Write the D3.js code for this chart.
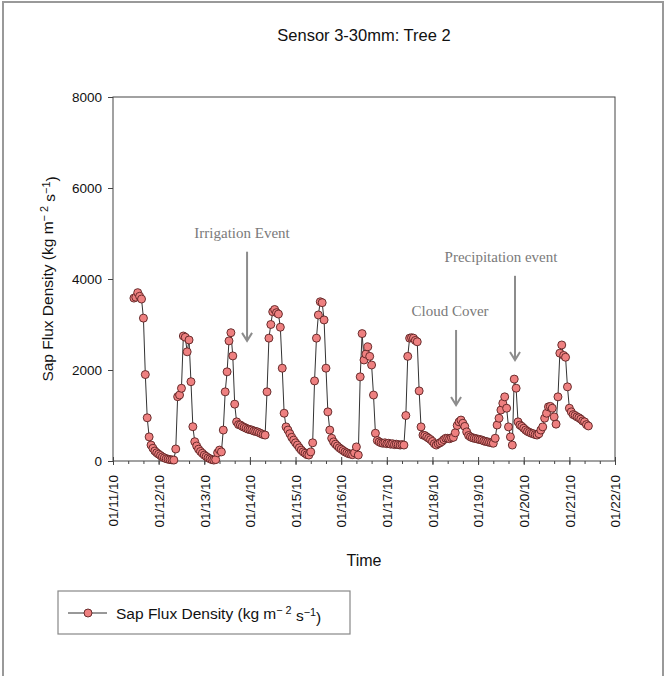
<!DOCTYPE html>
<html>
<head>
<meta charset="utf-8">
<script src="https://cdn.jsdelivr.net/npm/d3@7/dist/d3.min.js"></script>
<style>
  body { margin: 0; background: #fff; }
  svg text { font-family: "Liberation Sans", Arial, sans-serif; fill: #111; }
</style>
</head>
<body>
<svg id="chart" width="667" height="676"></svg>
<script>
// plot box
var margin = {top: 97, right: 52, bottom: 215, left: 113},
    W = 667, H = 676,
    width = W - margin.left - margin.right,
    height = H - margin.top - margin.bottom;

// hourly sap flux readings, first one at 01/11/10 11:00
var firstReading = new Date(2010, 0, 11, 11);
var sapFlux = [
  3580, 3600, 3700, 3620, 3560, 3140, 1900, 950, 530, 350, 280, 220, 180,
  150, 120, 90, 70, 50, 40, 30, 25, 20, 264, 1413, 1450, 1598, 2747, 2720, 2400, 2660, 1743, 754, 424, 330, 260, 210, 170,
  130, 100, 70, 50, 30, 20, 30, 180, 240, 200, 680, 1520, 1960, 2640, 2820, 2310, 1250, 860, 800, 790, 760, 740, 720, 700,
  690, 680, 660, 650, 640, 620, 600, 580, 570, 1520, 2700, 3000, 3280, 3330, 3260, 3230, 2940, 2040, 1050, 750, 680, 600, 520, 460,
  400, 350, 290, 240, 200, 170, 140, 130, 200, 400, 1760, 2700, 3210, 3500, 3480, 3100, 2040, 1080, 680, 500, 420, 370, 330, 290,
  260, 230, 200, 180, 160, 150, 140, 180, 310, 130, 1850, 2800, 2220, 2350, 2510, 2300, 2110, 1450, 610, 450, 420, 400, 390, 400,
  380, 390, 370, 380, 360, 370, 360, 350, 360, 350, 1000, 2300, 2700, 2710, 2700, 2650, 2620, 1540, 750, 570, 560, 530, 500, 470,
  430, 380, 350, 380, 400, 430, 470, 500, 500, 490, 510, 520, 620, 780, 860, 900, 830, 760, 640, 560, 530, 510, 500, 490,
  480, 470, 460, 440, 430, 420, 410, 400, 390, 500, 790, 940, 1120, 1270, 1410, 1160, 750, 530, 350, 1800, 1600, 860, 790, 760,
  720, 680, 650, 630, 610, 600, 580, 570, 600, 680, 750, 940, 1050, 1190, 1200, 1160, 970, 810, 1410, 2370, 2550, 2320, 2280, 1630,
  1160, 1080, 1020, 1000, 970, 950, 920, 880, 860, 800, 770
];

var dayLabels = ["01/11/10", "01/12/10", "01/13/10", "01/14/10", "01/15/10", "01/16/10",
                 "01/17/10", "01/18/10", "01/19/10", "01/20/10", "01/21/10", "01/22/10"];
var yTicks = [0, 2000, 4000, 6000, 8000];

var data = sapFlux.map(function(v, i) {
  return {t: d3.timeHour.offset(firstReading, i), v: v};
});

var svg = d3.select("#chart");

// grey frame round the whole figure
svg.append("rect")
  .attr("x", 3).attr("y", 2).attr("width", 660).attr("height", 690)
  .attr("fill", "none").attr("stroke", "#999").attr("stroke-width", 2);

var g = svg.append("g").attr("transform", "translate(" + margin.left + "," + margin.top + ")");

var x = d3.scaleTime()
  .domain([new Date(2010, 0, 11), new Date(2010, 0, 22)])
  .range([0, width]);
var y = d3.scaleLinear().domain([0, 8000]).range([height, 0]);

var days = d3.timeDay.range(new Date(2010, 0, 11), new Date(2010, 0, 23));

// minor ticks every 8 hours
g.append("g")
  .attr("transform", "translate(0," + height + ")")
  .call(d3.axisBottom(x).ticks(d3.timeHour.every(8)).tickSize(3).tickFormat(""))
  .call(function(a) { a.select(".domain").remove(); a.selectAll("line").attr("stroke", "#444"); });

var xAxis = g.append("g")
  .attr("transform", "translate(0," + height + ")")
  .call(d3.axisBottom(x).tickValues(days).tickSize(4).tickPadding(14)
        .tickFormat(function(d, i) { return dayLabels[i]; }));
xAxis.select(".domain").remove();
xAxis.selectAll(".tick line").attr("y1", -4).attr("y2", 4).attr("stroke", "#444");
xAxis.selectAll(".tick text")
  .attr("transform", "rotate(-90)")
  .attr("x", -14).attr("y", 0).attr("dy", "0.35em")
  .style("text-anchor", "end")
  .style("font-size", "13.5px")
  .style("font-family", "Liberation Sans, Arial, sans-serif")
  .attr("fill", "#111");

var yAxis = g.append("g")
  .call(d3.axisLeft(y).tickValues(yTicks).tickSize(5).tickPadding(6).tickFormat(d3.format("d")));
yAxis.select(".domain").remove();
yAxis.selectAll(".tick line").attr("stroke", "#444");
yAxis.selectAll(".tick text")
  .style("font-size", "13.5px")
  .style("font-family", "Liberation Sans, Arial, sans-serif")
  .attr("fill", "#111");

// plot box
g.append("rect")
  .attr("width", width).attr("height", height)
  .attr("fill", "none").attr("stroke", "#444").attr("stroke-width", 1);

// series
var line = d3.line().x(function(d) { return x(d.t); }).y(function(d) { return y(d.v); });
g.append("path").datum(data)
  .attr("d", line).attr("fill", "none").attr("stroke", "#333").attr("stroke-width", 1);

g.selectAll("circle.pt").data(data).enter().append("circle")
  .attr("class", "pt")
  .attr("cx", function(d) { return x(d.t); })
  .attr("cy", function(d) { return y(d.v); })
  .attr("r", 4)
  .attr("fill", "#ee8080").attr("stroke", "#5a2020").attr("stroke-width", 0.9);

// annotations with arrows (time, value of tip / top of shaft / text)
var notes = [
  {text: "Irrigation Event",     t: new Date(2010, 0, 13, 22, 30), tip: 2640, top: 4600, ty: 4900, dx: -5},
  {text: "Cloud Cover",          t: new Date(2010, 0, 18, 12, 25), tip: 1230, top: 2880, ty: 3180, dx: -6},
  {text: "Precipitation event",  t: new Date(2010, 0, 19, 19, 25), tip: 2220, top: 4070, ty: 4370, dx: -14}
];
notes.forEach(function(n) {
  var ax = x(n.t);
  g.append("line")
    .attr("x1", ax).attr("x2", ax).attr("y1", y(n.top)).attr("y2", y(n.tip))
    .attr("stroke", "#8c8c8c").attr("stroke-width", 2);
  g.append("path")
    .attr("d", "M" + (ax - 5) + "," + (y(n.tip) - 8) + "L" + ax + "," + y(n.tip) + "L" + (ax + 5) + "," + (y(n.tip) - 8))
    .attr("fill", "none").attr("stroke", "#8c8c8c").attr("stroke-width", 2);
  g.append("text")
    .attr("x", ax + n.dx).attr("y", y(n.ty))
    .attr("text-anchor", "middle")
    .style("font-family", "Liberation Serif, Times New Roman, serif")
    .style("font-size", "15px")
    .style("fill", "#7a7a7a")
    .text(n.text);
});

// title and axis titles
svg.append("text")
  .attr("x", margin.left + width / 2).attr("y", 41)
  .attr("text-anchor", "middle").style("font-size", "16.5px")
  .text("Sensor 3-30mm: Tree 2");

svg.append("text")
  .attr("x", margin.left + width / 2).attr("y", 566)
  .attr("text-anchor", "middle").style("font-size", "16px")
  .text("Time");

function unitsLabel(sel) {
  sel.append("tspan").text("Sap Flux Density (kg m");
  sel.append("tspan").attr("dy", "-0.45em").style("font-size", "0.7em").text("\u2212 2");
  sel.append("tspan").attr("dy", "0.45em").text(" s");
  sel.append("tspan").attr("dy", "-0.45em").style("font-size", "0.7em").text("\u22121");
  sel.append("tspan").attr("dy", "0.45em").text(")");
}

svg.append("text")
  .attr("transform", "translate(53," + (margin.top + height / 2) + ") rotate(-90)")
  .attr("text-anchor", "middle").style("font-size", "15.5px")
  .call(unitsLabel);

// legend
var leg = svg.append("g");
leg.append("rect")
  .attr("x", 58).attr("y", 591).attr("width", 292).attr("height", 43)
  .attr("fill", "#fff").attr("stroke", "#888").attr("stroke-width", 1.2);
leg.append("line")
  .attr("x1", 68).attr("x2", 107).attr("y1", 613).attr("y2", 613)
  .attr("stroke", "#333").attr("stroke-width", 1);
leg.append("circle")
  .attr("cx", 88).attr("cy", 613).attr("r", 4)
  .attr("fill", "#ee8080").attr("stroke", "#5a2020").attr("stroke-width", 0.9);
leg.append("text")
  .attr("x", 116).attr("y", 619).style("font-size", "15.5px")
  .call(unitsLabel);
</script>
</body>
</html>
